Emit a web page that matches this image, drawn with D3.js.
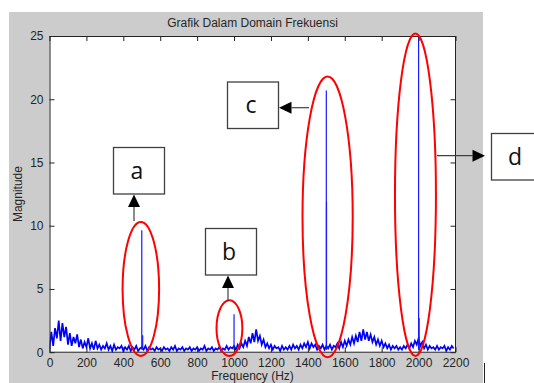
<!DOCTYPE html>
<html>
<head>
<meta charset="utf-8">
<script src="https://cdn.jsdelivr.net/npm/d3@7"></script>
<style>
  body { margin: 0; background: #fff; }
  svg { display: block; }
</style>
</head>
<body>
<svg id="chart" width="534" height="383"></svg>
<script>
// spectrum noise floor, one value every 10 Hz (0 .. 2190 Hz)
const noiseStep = 10
const noiseMag = [
  0.3, 1.6, 0.5, 1.9, 1.1, 2.5, 0.9, 2.3, 1.2, 2.0,   // 0
  0.6, 1.5, 0.5, 1.2, 0.7, 1.4, 0.4, 1.0, 0.3, 0.8,   // 100
  0.4, 1.1, 0.3, 0.7, 0.2, 0.9, 0.3, 0.6, 0.2, 0.5,   // 200
  0.3, 0.7, 0.2, 0.5, 0.1, 0.6, 0.2, 0.4, 0.3, 0.5,   // 300
  0.1, 0.4, 0.2, 0.5, 0.1, 0.4, 0.2, 0.5, 0.1, 0.3,   // 400
  0.4, 0.2, 0.5, 0.1, 0.4, 0.2, 0.3, 0.1, 0.4, 0.2,   // 500
  0.3, 0.1, 0.4, 0.2, 0.3, 0.1, 0.4, 0.2, 0.5, 0.1,   // 600
  0.3, 0.2, 0.4, 0.1, 0.3, 0.2, 0.4, 0.1, 0.3, 0.2,   // 700
  0.4, 0.1, 0.3, 0.2, 0.5, 0.1, 0.3, 0.2, 0.4, 0.1,   // 800
  0.3, 0.2, 0.4, 0.1, 0.3, 0.2, 0.5, 0.2, 0.4, 0.3,   // 900
  0.5, 0.2, 0.6, 0.3, 0.7, 0.4, 0.9, 0.5, 1.2, 0.7,   // 1000
  1.5, 0.8, 1.8, 0.9, 1.3, 0.6, 1.0, 0.4, 0.7, 0.3,   // 1100
  0.6, 0.2, 0.5, 0.3, 0.4, 0.1, 0.5, 0.2, 0.4, 0.2,   // 1200
  0.5, 0.2, 0.6, 0.3, 0.5, 0.2, 0.6, 0.3, 0.7, 0.4,   // 1300
  0.8, 0.3, 0.7, 0.4, 0.6, 0.2, 0.5, 0.3, 0.6, 0.2,   // 1400
  0.5, 0.3, 0.6, 0.2, 0.5, 0.4, 0.7, 0.3, 0.8, 0.4,   // 1500
  0.9, 0.5, 1.0, 0.6, 1.2, 0.7, 1.3, 0.8, 1.6, 0.9,   // 1600
  1.8, 1.0, 1.6, 0.9, 1.4, 0.8, 1.2, 0.6, 1.0, 0.5,   // 1700
  0.9, 0.4, 0.7, 0.3, 0.6, 0.2, 0.5, 0.3, 0.5, 0.2,   // 1800
  0.4, 0.2, 0.5, 0.3, 0.6, 0.3, 0.7, 0.4, 0.9, 0.6,   // 1900
  1.1, 0.5, 0.8, 0.3, 0.6, 0.2, 0.5, 0.3, 0.4, 0.2,   // 2000
  0.5, 0.2, 0.4, 0.3, 0.5, 0.1, 0.4, 0.2, 0.5, 0.3    // 2100
]

// the tone peaks
const peakFreq = [500, 505, 1000, 1500, 1501, 2000, 2003]
const peakMag  = [9.65, 1.35, 3.0, 20.7, 11.9, 25, 2.7]

const xTicks = [0, 200, 400, 600, 800, 1000, 1200, 1400, 1600, 1800, 2000, 2200]
const yTicks = [0, 5, 10, 15, 20, 25]

// red ellipses round the peaks, in Hz / magnitude units
const markLabels = ['a', 'b', 'c', 'd']
const ellCx = [495, 975, 1507, 1983]
const ellCy = [5.0, 1.9, 10.7, 12.45]
const ellRx = [99, 70, 136, 111]
const ellRy = [5.3, 2.2, 11.1, 12.75]

const title = 'Grafik Dalam Domain Frekuensi'
const xLabel = 'Frequency (Hz)'
const yLabel = 'Magnitude'

const margin = { top: 36, right: 78.5, bottom: 30.8, left: 49.5 }
const W = 534, H = 383
const width = W - margin.left - margin.right
const height = H - margin.top - margin.bottom

const svg = d3.select('#chart')
const font = '"Liberation Sans", Arial, sans-serif'

// matlab figure background
svg.append('rect')
  .attr('x', 9).attr('y', 12).attr('width', 474).attr('height', H - 12)
  .attr('fill', '#cccccc')
svg.append('line')
  .attr('x1', 484.5).attr('x2', 484.5).attr('y1', 363).attr('y2', H)
  .attr('stroke', '#222').attr('stroke-width', 1)

const x = d3.scaleLinear().domain([0, 2200]).range([0, width])
const y = d3.scaleLinear().domain([0, 25]).range([height, 0])

const g = svg.append('g').attr('transform', `translate(${margin.left},${margin.top})`)

g.append('rect').attr('width', width).attr('height', height).attr('fill', '#fff')

svg.append('defs').append('clipPath').attr('id', 'plotclip')
  .append('rect').attr('width', width).attr('height', height + 0.5)

const plotArea = g.append('g').attr('clip-path', 'url(#plotclip)')

const noise = noiseMag.map((m, i) => [i * noiseStep, m])
plotArea.append('path')
  .datum(noise)
  .attr('fill', 'none')
  .attr('stroke', '#0000ff')
  .attr('stroke-width', 1.7)
  .attr('stroke-linejoin', 'miter')
  .attr('d', d3.line().x(d => x(d[0])).y(d => y(d[1])))

plotArea.selectAll('.peak')
  .data(peakFreq.map((f, i) => ({ f, m: peakMag[i] })))
  .join('line')
  .attr('class', 'peak')
  .attr('x1', d => x(d.f)).attr('x2', d => x(d.f))
  .attr('y1', y(0.2)).attr('y2', d => y(d.m))
  .attr('stroke', '#1a1aff')
  .attr('stroke-width', 1.2)

// axes, matlab style: ticks inside, box all round
const styleAxis = sel => {
  sel.select('.domain').remove()
  sel.selectAll('.tick line').attr('stroke', '#222')
  sel.selectAll('.tick text')
    .attr('fill', '#262626')
    .style('font-family', font)
    .style('font-size', '12px')
}
const fmt = d3.format('d')

g.append('g').attr('transform', `translate(0,${height})`)
  .call(d3.axisBottom(x).tickValues(xTicks).tickFormat(fmt).tickSizeInner(-5).tickSizeOuter(0).tickPadding(6))
  .call(styleAxis)
g.append('g')
  .call(d3.axisTop(x).tickValues(xTicks).tickSizeInner(-5).tickSizeOuter(0).tickFormat(''))
  .call(styleAxis)
g.append('g')
  .call(d3.axisLeft(y).tickValues(yTicks).tickFormat(fmt).tickSizeInner(-5).tickSizeOuter(0).tickPadding(6))
  .call(styleAxis)
g.append('g').attr('transform', `translate(${width},0)`)
  .call(d3.axisRight(y).tickValues(yTicks).tickSizeInner(-5).tickSizeOuter(0).tickFormat(''))
  .call(styleAxis)

g.append('rect')
  .attr('x', 0.5).attr('y', 0.5)
  .attr('width', width - 0.5).attr('height', height - 0.5)
  .attr('fill', 'none').attr('stroke', '#222').attr('stroke-width', 1)

// titles
svg.append('text')
  .attr('x', margin.left + width / 2).attr('y', 27)
  .attr('text-anchor', 'middle')
  .style('font-family', font).style('font-size', '12px').attr('fill', '#262626')
  .text(title)
svg.append('text')
  .attr('x', margin.left + width / 2).attr('y', 380.3)
  .attr('text-anchor', 'middle')
  .style('font-family', font).style('font-size', '12px').attr('fill', '#262626')
  .text(xLabel)
svg.append('text')
  .attr('transform', `translate(22,${margin.top + height / 2}) rotate(-90)`)
  .attr('text-anchor', 'middle')
  .style('font-family', font).style('font-size', '12px').attr('fill', '#262626')
  .text(yLabel)

// red ellipses
g.selectAll('.ring')
  .data(markLabels.map((l, i) => ({ l, i })))
  .join('ellipse')
  .attr('class', 'ring')
  .attr('cx', d => x(ellCx[d.i]))
  .attr('cy', d => y(ellCy[d.i]))
  .attr('rx', d => x(ellRx[d.i]) - x(0))
  .attr('ry', d => y(0) - y(ellRy[d.i]))
  .attr('fill', 'none')
  .attr('stroke', '#ff0000')
  .attr('stroke-width', 2)

// callout boxes with arrows (page pixels)
const boxes = [
  { l: 'a', x: 113.5, y: 147.5, arrow: [[134, 221], [134, 194.5]] },
  { l: 'b', x: 205.5, y: 228.5, arrow: [[228, 301], [228, 275.5]] },
  { l: 'c', x: 227.5, y: 82, arrow: [[309, 107.7], [279, 107.7]] },
  { l: 'd', x: 491.5, y: 133.5, arrow: [[437, 155.7], [485, 155.7]] }
]
const bw = 51, bh = 46.5, head = 12.5, hw = 6

boxes.forEach(b => {
  const [p0, p1] = b.arrow
  const dx = Math.sign(p1[0] - p0[0]), dy = Math.sign(p1[1] - p0[1])
  const base = [p1[0] - dx * head, p1[1] - dy * head]
  svg.append('line')
    .attr('x1', p0[0]).attr('y1', p0[1]).attr('x2', base[0]).attr('y2', base[1])
    .attr('stroke', '#404040').attr('stroke-width', 1.2)
  const path = d3.path()
  path.moveTo(p1[0], p1[1])
  path.lineTo(base[0] + dy * hw, base[1] + dx * hw)
  path.lineTo(base[0] - dy * hw, base[1] - dx * hw)
  path.closePath()
  svg.append('path').attr('d', path.toString()).attr('fill', '#000')

  svg.append('rect')
    .attr('x', b.x).attr('y', b.y).attr('width', bw).attr('height', bh)
    .attr('fill', '#fff').attr('stroke', '#404040').attr('stroke-width', 1.3)
  svg.append('text')
    .attr('x', b.x + bw / 2 - 2).attr('y', b.y + bh / 2 + 8)
    .attr('text-anchor', 'middle')
    .style('font-family', '"Open Sans", sans-serif').style('font-size', '23px')
    .attr('fill', '#111')
    .text(b.l)
})
</script>
</body>
</html>
